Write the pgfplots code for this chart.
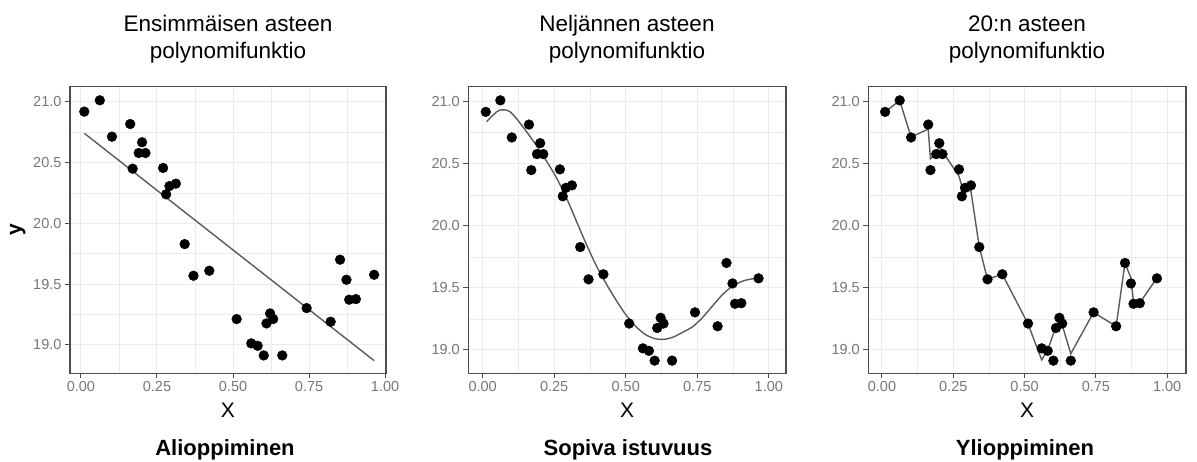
\documentclass[border=0pt]{standalone}
\usepackage{fontspec}
\setmainfont{Liberation Sans}
\usepackage{pgfplots}
\pgfplotsset{compat=1.18}
\usepackage{pgfplotstable}
\definecolor{gridc}{HTML}{EBEBEB}
\definecolor{framec}{HTML}{4D4D4D}
\definecolor{tickc}{HTML}{777777}
\definecolor{fitc}{HTML}{5A5A5A}

\pgfplotstableread{
x y
0.011 20.918
0.062 21.011
0.102 20.712
0.162 20.816
0.170 20.449
0.190 20.578
0.201 20.666
0.212 20.578
0.270 20.455
0.280 20.238
0.291 20.306
0.312 20.326
0.341 19.829
0.370 19.569
0.422 19.610
0.512 19.213
0.560 19.013
0.581 18.993
0.601 18.914
0.610 19.177
0.622 19.259
0.632 19.213
0.662 18.914
0.742 19.303
0.821 19.191
0.852 19.701
0.873 19.536
0.882 19.372
0.904 19.377
0.964 19.577
}\pts

\pgfplotstableread{
x y
0.011 20.740
0.964 18.871
}\linfit

\pgfplotstableread{
x y
0.014 20.839
0.040 20.900
0.061 20.933
0.096 20.919
0.140 20.800
0.187 20.651
0.221 20.530
0.256 20.396
0.291 20.235
0.326 20.047
0.361 19.859
0.396 19.685
0.431 19.537
0.466 19.403
0.501 19.282
0.536 19.188
0.571 19.121
0.606 19.089
0.635 19.086
0.664 19.102
0.699 19.142
0.734 19.188
0.769 19.263
0.804 19.357
0.839 19.448
0.874 19.515
0.909 19.555
0.940 19.572
0.960 19.578
}\quartfit

\pgfplotstableread{
x y
0.011 20.918
0.062 21.010
0.102 20.715
0.162 20.780
0.170 20.540
0.190 20.580
0.201 20.640
0.212 20.600
0.270 20.400
0.280 20.320
0.291 20.290
0.312 20.280
0.341 19.830
0.370 19.570
0.422 19.610
0.512 19.210
0.560 18.920
0.581 19.000
0.601 19.130
0.610 19.180
0.622 19.230
0.632 19.200
0.662 18.970
0.742 19.303
0.821 19.190
0.852 19.700
0.873 19.580
0.882 19.380
0.904 19.380
0.964 19.580
}\highfit

\pgfplotsset{
  panel/.style={
    scale only axis,
    height=286.6pt,
    anchor=north west,
    axis line style={framec, line width=1.4pt},
    xtick={0,0.25,0.5,0.75,1},
    xticklabels={0.00,0.25,0.50,0.75,1.00},
    ytick={19,19.5,20,20.5,21},
    yticklabels={19.0,19.5,20.0,20.5,21.0},
    minor xtick={0.125,0.375,0.625,0.875},
    minor ytick={18.75,19.25,19.75,20.25,20.75},
    grid=both,
    major grid style={gridc, line width=1pt},
    minor grid style={gridc, line width=0.5pt},
    tick align=outside,
    major tick length=5pt,
    minor tick length=0pt,
    tick style={framec, line width=1pt},
    xtick pos=bottom,
    ytick pos=left,
    ticklabel style={font=\fontsize{14.5}{17}\selectfont, text=tickc},
    xlabel style={at={(axis description cs:0.5,0)}, anchor=base, yshift=-43.7pt,
      font=\fontsize{21}{25}\selectfont},
  },
  pts/.style={only marks, mark=*, mark size=4.9pt, draw=black, fill=black},
  fit/.style={no marks, fitc, line width=1.4pt},
}

\begin{document}
\begin{tikzpicture}
\useasboundingbox (0pt,0pt) rectangle (1197pt,-462pt);

% Panel 1
\begin{axis}[panel, at={(70pt,-86.7pt)}, width=316pt,
  xmin=-0.036, xmax=1.003, ymin=18.767, ymax=21.123,
  xlabel={X}, ylabel={y},
  ylabel style={at={(axis description cs:-0.165,0.5)}, anchor=center,
    font=\bfseries\fontsize{21}{25}\selectfont}]
\addplot[pts] table {\pts};
\addplot[fit] table {\linfit};
\end{axis}

% Panel 2
\begin{axis}[panel, at={(468.3pt,-86.7pt)}, width=317.7pt,
  xmin=-0.050, xmax=1.060, ymin=18.812, ymax=21.121,
  xlabel={X}]
\addplot[pts] table {\pts};
\addplot[fit, smooth, tension=0.5] table {\quartfit};
\end{axis}

% Panel 3
\begin{axis}[panel, at={(868.3pt,-86.7pt)}, width=317.7pt,
  xmin=-0.048, xmax=1.066, ymin=18.812, ymax=21.121,
  xlabel={X}]
\addplot[pts] table {\pts};
\addplot[fit] table {\highfit};
\end{axis}

% Titles
\begin{scope}[every node/.style={anchor=base, font=\fontsize{22.5}{27}\selectfont}]
\node at (228pt,-32pt) {Ensimmäisen asteen};
\node at (228pt,-59pt) {polynomifunktio};
\node at (627pt,-32pt) {Neljännen asteen};
\node at (627pt,-59pt) {polynomifunktio};
\node at (1027pt,-32pt) {20:n asteen};
\node at (1027pt,-59pt) {polynomifunktio};
\end{scope}

% Bottom labels
\begin{scope}[every node/.style={anchor=base, font=\bfseries\fontsize{22}{26}\selectfont}]
\node at (225pt,-455pt) {Alioppiminen};
\node at (628pt,-455pt) {Sopiva istuvuus};
\node at (1025pt,-455pt) {Ylioppiminen};
\end{scope}
\end{tikzpicture}
\end{document}
